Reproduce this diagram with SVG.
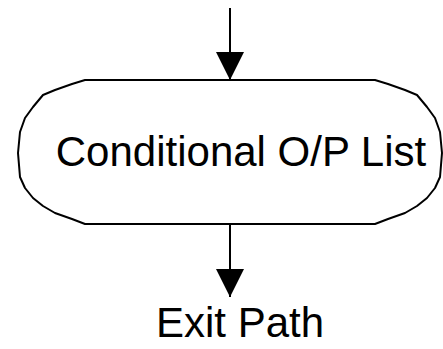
<svg xmlns="http://www.w3.org/2000/svg" width="443" height="349" viewBox="0 0 443 349">
  <style>
    .edge { stroke: #000; stroke-width: 2; fill: none; }
    .shape { stroke: #000; stroke-width: 2; fill: #fff; stroke-linejoin: round; }
    .label { font-family: "Liberation Sans", Arial, sans-serif; font-size: 42px; fill: #000; text-anchor: middle; }
  </style>
  <defs>
    <marker id="arrow" markerUnits="userSpaceOnUse" markerWidth="30" markerHeight="28" refX="28" refY="14" orient="auto">
      <path d="M0,0 L28,14 L0,28 Z" fill="#000"/>
    </marker>
  </defs>

  <g id="connectors">
    <line class="edge" x1="230" y1="8" x2="230" y2="80" marker-end="url(#arrow)"/>
    <line class="edge" x1="230" y1="224" x2="230" y2="297" marker-end="url(#arrow)"/>
  </g>

  <g id="cond-op-list">
    <polygon class="shape" points="85,80 375,80 388,84 405,90 417,95 427,107 435,118 440,132 442,153 440,177 435,188 427,198 417,206 405,213 388,219 375,224 85,224 72,219 55,213 43,206 33,198 25,188 20,177 18,153 20,132 25,118 33,107 43,95 55,90 72,84"/>
    <text class="label" x="241" y="166">Conditional O/P List</text>
  </g>

  <g id="exit-path">
    <text class="label" x="240" y="337">Exit Path</text>
  </g>
</svg>
